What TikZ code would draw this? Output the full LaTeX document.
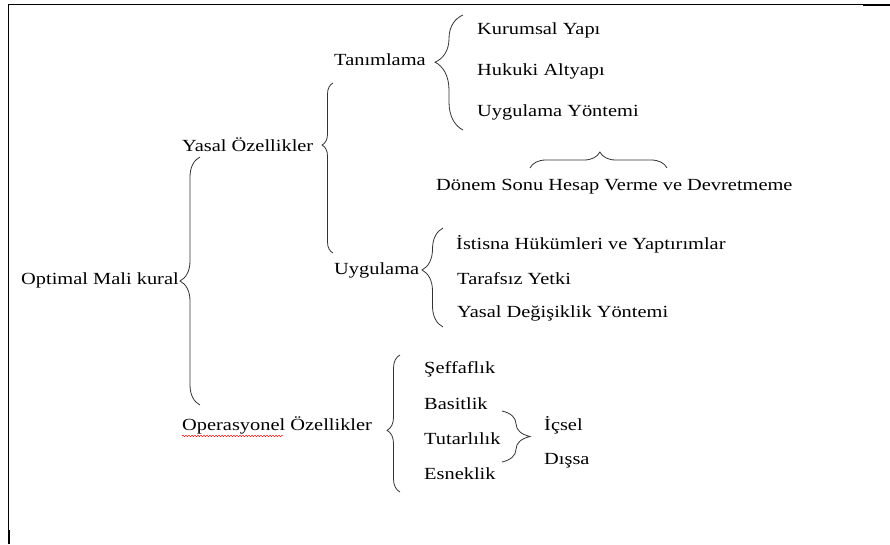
\documentclass[tikz,border=0pt]{standalone}
\usepackage{fontspec}
\setmainfont{Liberation Serif}[FakeStretch=1.2]
\usetikzlibrary{calc,decorations.pathreplacing,decorations.pathmorphing}
\tikzset{
	lbl/.style={anchor=west, inner sep=0pt, font=\fontsize{17}{20}\selectfont},
	brc/.style={decorate, decoration={brace, amplitude=#1}, line width=0.8pt, color=black!80},
	brc/.default=12
}

\begin{document}
\begin{tikzpicture}[x=1pt, y=-1pt]
			%%%%% START %%%%%
			\useasboundingbox (0,0) rectangle (890,544);
			
			% frame
			\draw[line width=0.8pt] (8,544) -- (8,4) -- (863,4);
			\draw[line width=2pt] (863,5) -- (890,5);
			\draw[line width=1.8pt] (8.6,530) -- (8.6,544);
			
			% texts
			\node[lbl] (optimal) at (21,280) {Optimal Mali kural};
			\node[lbl] (yasal) at (182,145) {Yasal Özellikler};
			\node[lbl] (tanim) at (334,60) {Tanımlama};
			\node[lbl] (kurumsal) at (477,30) {Kurumsal Yapı};
			\node[lbl] (hukuki) at (477,71) {Hukuki Altyapı};
			\node[lbl] (yontem) at (477,112) {Uygulama Yöntemi};
			\node[lbl] (donem) at (436,187) {Dönem Sonu Hesap Verme ve Devretmeme};
			\node[lbl] (uyg) at (334,270) {Uygulama};
			\node[lbl] (istisna) at (456,244) {İstisna Hükümleri ve Yaptırımlar};
			\node[lbl] (tarafsiz) at (457,279) {Tarafsız Yetki};
			\node[lbl] (degisik) at (457,313) {Yasal Değişiklik Yöntemi};
			\node[lbl] (operasyon) at (182,425) {Operasyonel Özellikler};
			\node[lbl] (seffaf) at (424,369) {Şeffaflık};
			\node[lbl] (basit) at (424,404) {Basitlik};
			\node[lbl] (tutarli) at (424,439) {Tutarlılık};
			\node[lbl] (esnek) at (424,474) {Esneklik};
			\node[lbl] (icsel) at (544,425) {İçsel};
			\node[lbl] (dissa) at (544,461) {Dışsa};
			
			% spell check line
			\draw[red, line width=0.4pt, decorate, decoration={snake, amplitude=0.8pt, segment length=3pt}]
				($(operasyon.south west)+(0,2)$) -- +(101,0);
			
			% braces
			\coordinate (b1a) at (200,405);
			\coordinate (b1b) at (200,157);
			\draw[brc=20] (b1a) -- (b1b);
			
			\coordinate (b2a) at (333,253);
			\coordinate (b2b) at (333,83);
			\draw[brc=11, decoration={aspect=0.635}] (b2a) -- (b2b);
			
			\coordinate (b3a) at (463,130);
			\coordinate (b3b) at (463,15);
			\draw[brc=28, decoration={aspect=0.59}] (b3a) -- (b3b);
			
			\coordinate (b4a) at (443,327);
			\coordinate (b4b) at (443,228);
			\draw[brc=21, decoration={aspect=0.576}] (b4a) -- (b4b);
			
			\coordinate (b5a) at (400,492);
			\coordinate (b5b) at (400,355);
			\draw[brc=13, decoration={aspect=0.45}] (b5a) -- (b5b);
			
			\coordinate (b6a) at (502,411);
			\coordinate (b6b) at (502,462);
			\draw[brc=28] (b6a) -- (b6b);
			
			\coordinate (b7a) at (530,168);
			\coordinate (b7b) at (667,168);
			\draw[brc=16, decoration={aspect=0.51}] (b7a) -- (b7b);
			
			%%%%% END %%%%%
		\end{tikzpicture}
\end{document}
